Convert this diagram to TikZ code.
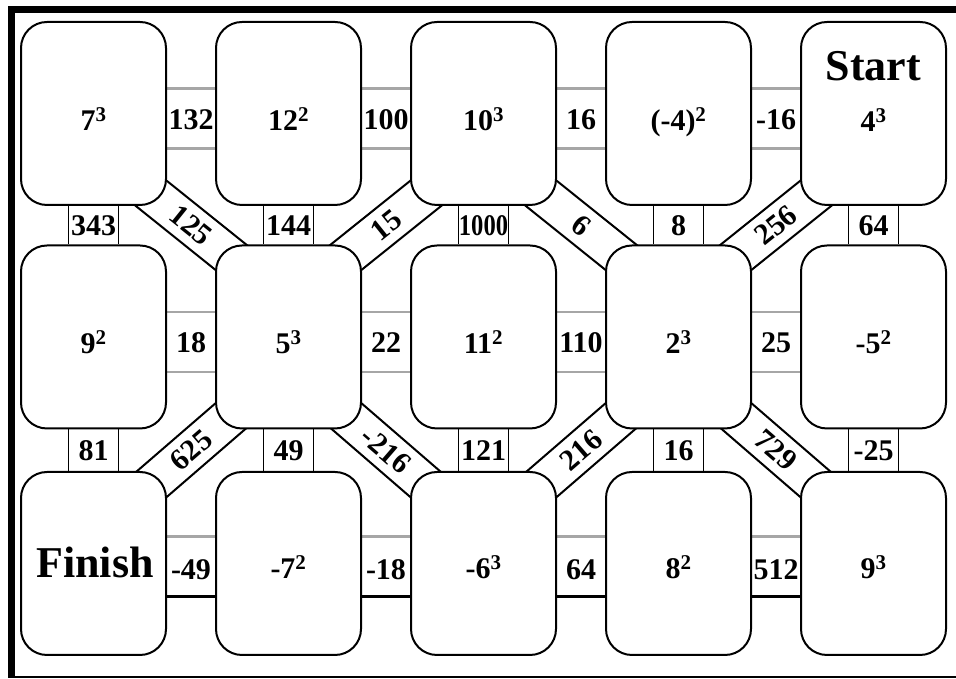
\documentclass[tikz,border=0pt]{standalone}
\usepackage{fontspec}
\setmainfont{Liberation Serif}
\usetikzlibrary{calc}
\pgfdeclarelayer{bg}
\pgfsetlayers{bg,main}
\newcommand\numfont{\bfseries\fontsize{30}{30}\selectfont}
\newcommand\bigfont{\bfseries\fontsize{44}{44}\selectfont}
\newcommand\pw[1]{\textsuperscript{#1}}
\newcommand\diagc[4]{\filldraw[diagline] let \p1=($(#2)-(#1)$), \n1={atan2(\y1,\x1)}, \p2=($(#1)!0.5!(#2)$) in
  ($(\p2)+(\n1:75pt)+(\n1+90:19.5pt)$) -- ($(\p2)+(\n1+180:75pt)+(\n1+90:19.5pt)$)
  -- ($(\p2)+(\n1+180:75pt)+(\n1-90:19.5pt)$) -- ($(\p2)+(\n1:75pt)+(\n1-90:19.5pt)$) -- cycle
  (\p2) node[num, anchor=center, rotate=\n1] (#4) {#3};}
\begin{document}
\begin{tikzpicture}[x=1pt,y=1pt,
  cell/.style={draw, line width=2pt, rounded corners=26pt, fill=white, minimum width=145pt, minimum height=183pt, inner sep=0pt},
  num/.style={font=\numfont, anchor=base, inner sep=0pt},
  big/.style={font=\bigfont, anchor=base, inner sep=0pt},
  hband/.style={draw=gray!70, line width=2.5pt},
  hbandlow/.style={draw=black, line width=3pt},
  vband/.style={draw=black, line width=1.6pt},
  diagline/.style={draw=black, line width=2pt, fill=white},
]
\useasboundingbox (0,0) rectangle (956,679);
% frame
\fill (8,666) rectangle (956,673);
\fill (8,1) rectangle (15,673);
\fill (8,1) rectangle (956,3);

% boxes
\foreach \c/\x in {1/93.5,2/288.5,3/483.5,4/678.5,5/873.5}
  \foreach \r/\y in {1/565.5,2/342,3/115.5}
    \node[cell] (b\r\c) at (\x,\y) {};

% box texts
\node[num] (t11) at ($(b11)+(0,-17)$) {7\pw{3}};
\node[num] (t12) at ($(b12)+(0,-17)$) {12\pw{2}};
\node[num] (t13) at ($(b13)+(0,-17)$) {10\pw{3}};
\node[num] (t14) at ($(b14)+(0,-17)$) {(-4)\pw{2}};
\node[big] (start) at ($(b15)+(0,33)$) {Start};
\node[num] (t15) at ($(b15)+(0,-18)$) {4\pw{3}};
\node[num] (t21) at ($(b21)+(0,-17)$) {9\pw{2}};
\node[num] (t22) at ($(b22)+(0,-17)$) {5\pw{3}};
\node[num] (t23) at ($(b23)+(0,-17)$) {11\pw{2}};
\node[num] (t24) at ($(b24)+(0,-17)$) {2\pw{3}};
\node[num] (t25) at ($(b25)+(0,-17)$) {-5\pw{2}};
\node[big] (finish) at ($(b31)+(1.5,-14.5)$) {Finish};
\node[num] (t32) at ($(b32)+(0,-15)$) {-7\pw{2}};
\node[num] (t33) at ($(b33)+(0,-15)$) {-6\pw{3}};
\node[num] (t34) at ($(b34)+(0,-15)$) {8\pw{2}};
\node[num] (t35) at ($(b35)+(0,-15)$) {9\pw{3}};

\begin{pgfonlayer}{bg}
% horizontal connectors
\foreach \r in {1,2}
  \foreach \a/\b in {1/2,2/3,3/4,4/5} {
    \draw[hband] ($(b\r\a.east)+(0,25)$) -- ($(b\r\b.west)+(0,25)$);
    \draw[hband] ($(b\r\a.east)+(0,-35)$) -- ($(b\r\b.west)+(0,-35)$);
  }
\foreach \a/\b in {1/2,2/3,3/4,4/5} {
  \draw[hband] ($(b3\a.east)+(0,27)$) -- ($(b3\b.west)+(0,27)$);
  \draw[hbandlow] ($(b3\a.east)+(0,-33)$) -- ($(b3\b.west)+(0,-33)$);
}
% vertical connectors
\foreach \c in {1,...,5} {
  \draw[vband] ($(b1\c.south)+(-25,0)$) -- ($(b2\c.north)+(-25,0)$);
  \draw[vband] ($(b1\c.south)+(25,0)$) -- ($(b2\c.north)+(25,0)$);
  \draw[vband] ($(b2\c.south)+(-25,0)$) -- ($(b3\c.north)+(-25,0)$);
  \draw[vband] ($(b2\c.south)+(25,0)$) -- ($(b3\c.north)+(25,0)$);
}
% diagonal connectors
\diagc{b11.south east}{b22.north west}{125}{d1}
\diagc{b22.north east}{b13.south west}{15}{d2}
\diagc{b13.south east}{b24.north west}{6}{d3}
\diagc{b24.north east}{b15.south west}{256}{d4}
\diagc{b31.north east}{b22.south west}{625}{d5}
\diagc{b22.south east}{b33.north west}{-216}{d6}
\diagc{b33.north east}{b24.south west}{216}{d7}
\diagc{b24.south east}{b35.north west}{729}{d8}
\end{pgfonlayer}

% horizontal labels
\foreach \r/\a/\b/\t in {1/1/2/132,1/2/3/100,1/3/4/16,1/4/5/-16,
                         2/1/2/18,2/2/3/22,2/3/4/110,2/4/5/25,
                         3/1/2/-49,3/2/3/-18,3/3/4/64,3/4/5/512}
  \node[num] (h\r\a) at ($(b\r\a.east)!0.5!(b\r\b.west)+(0,-16)$) {\t};
% vertical labels
\foreach \c/\t in {1/343,2/144,3/{\scalebox{0.82}[1]{1000}},4/8,5/64}
  \node[num] (va\c) at ($(b1\c.south)!0.5!(b2\c.north)+(0,-10)$) {\t};
\foreach \c/\t in {1/81,2/49,3/121,4/16,5/-25}
  \node[num] (vb\c) at ($(b2\c.south)!0.5!(b3\c.north)+(0,-10)$) {\t};
\end{tikzpicture}
\end{document}
